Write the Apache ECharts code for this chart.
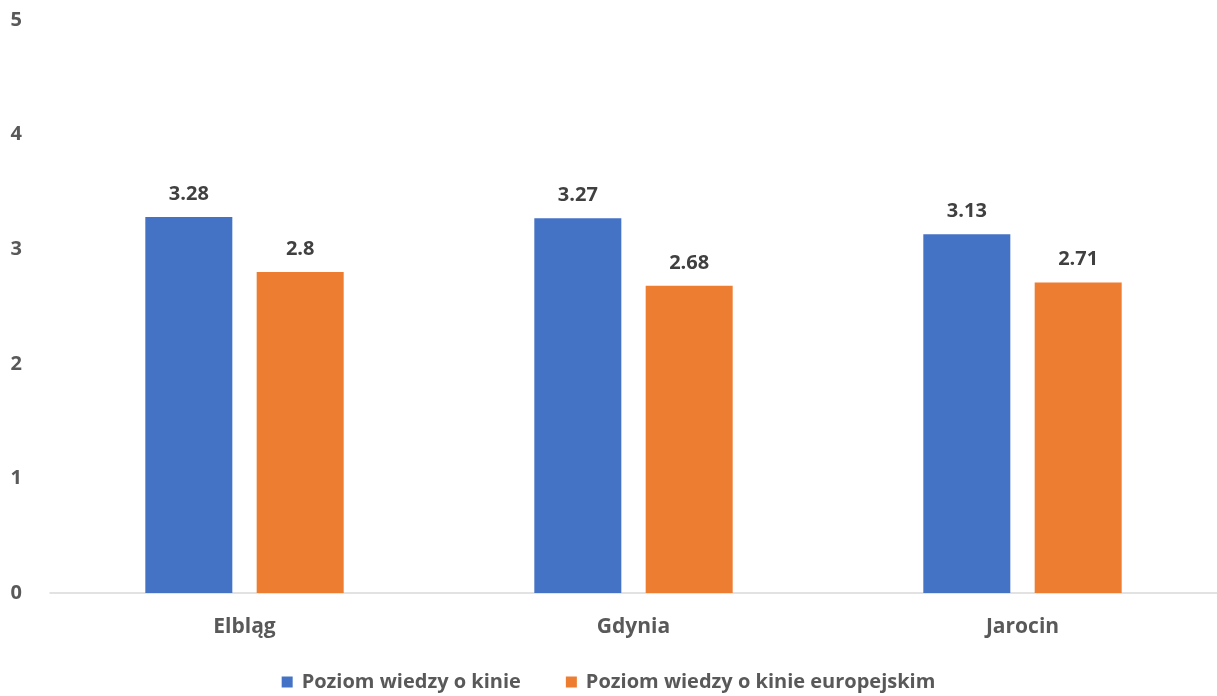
<!DOCTYPE html>
<html><head><meta charset="utf-8">
<script src="https://cdn.jsdelivr.net/npm/echarts@6/dist/echarts.min.js"></script>
<style>html,body{margin:0;padding:0;background:#fff}#c{width:1217px;height:696px}</style>
</head><body><div id="c"></div>
<script>
const categories = ['Elbląg', 'Gdynia', 'Jarocin'];
const seriesNames = ['Poziom wiedzy o kinie', 'Poziom wiedzy o kinie europejskim'];
const valuesKnowledge = [3.28, 3.27, 3.13];
const valuesEuropean = [2.8, 2.68, 2.71];
const yTicks = [0, 1, 2, 3, 4, 5];

const FONT = '"Open Sans", "Noto Sans", sans-serif';
const chart = echarts.init(document.getElementById('c'), null, {renderer: 'canvas'});
const labelStyle = {show: true, position: 'top', distance: 13, color: '#404040', fontFamily: FONT, fontWeight: 'bold', fontSize: 20};
chart.setOption({
  animation: false,
  grid: {left: 50, right: 0, top: 20, bottom: 103, containLabel: false},
  legend: {
    bottom: -1, left: 'center', itemWidth: 11, itemHeight: 11, itemGap: 45,
    icon: 'rect',
    textStyle: {color: '#595959', fontFamily: FONT, fontWeight: 'bold', fontSize: 20, padding: [0, 0, 0, 4]},
    data: seriesNames
  },
  xAxis: {
    type: 'category', data: categories,
    axisLine: {lineStyle: {color: '#d9d9d9', width: 1.5}},
    axisTick: {show: false},
    axisLabel: {color: '#595959', fontFamily: FONT, fontWeight: 'bold', fontSize: 21, margin: 24}
  },
  yAxis: {
    type: 'value', min: yTicks[0], max: yTicks[yTicks.length - 1], interval: 1,
    axisLine: {show: false}, axisTick: {show: false},
    splitLine: {show: false},
    axisLabel: {color: '#595959', fontFamily: FONT, fontWeight: 'bold', fontSize: 20, margin: 28}
  },
  series: [
    {name: seriesNames[0], type: 'bar', data: valuesKnowledge, barWidth: 87, barGap: '28%',
     itemStyle: {color: '#4472c4'}, label: labelStyle},
    {name: seriesNames[1], type: 'bar', data: valuesEuropean, barWidth: 87,
     itemStyle: {color: '#ed7d31'}, label: labelStyle}
  ]
});
</script></body></html>
